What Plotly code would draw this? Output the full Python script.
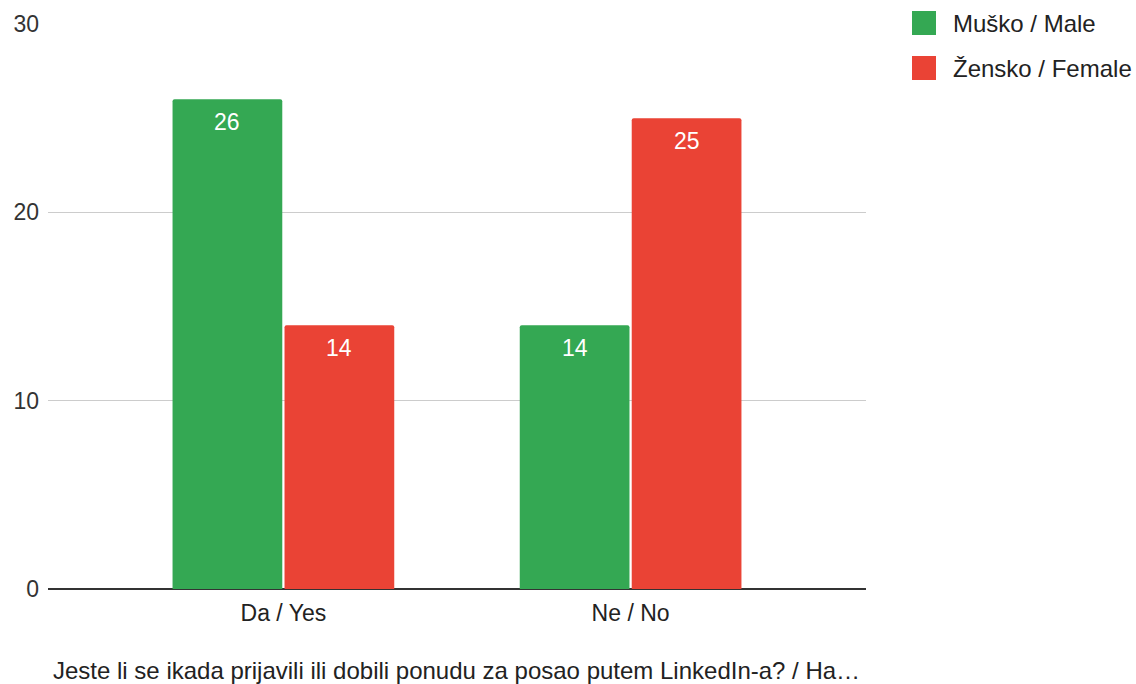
import plotly.graph_objects as go

categories = ["Da / Yes", "Ne / No"]
male = [26, 14]
female = [14, 25]
series_names = ["Muško / Male", "Žensko / Female"]
colors = ["#34A853", "#EA4335"]
y_ticks = [0, 10, 20, 30]
x_title = "Jeste li se ikada prijavili ili dobili ponudu za posao putem LinkedIn-a? / Ha…"

FONT = "Arial, Liberation Sans, sans-serif"
bargap = 0.355

fig = go.Figure()
for name, vals, col in zip(series_names, [male, female], colors):
    fig.add_trace(go.Bar(
        x=categories, y=vals, name=name,
        marker=dict(color=col, line=dict(width=0), cornerradius=2),
        showlegend=False, hoverinfo="x+y+name",
    ))

# data labels positioned through the axes (slot centres of grouped bars)
slot = (1 - bargap) / 2
annotations = []
for si, vals in enumerate([male, female]):
    off = -slot / 2 if si == 0 else slot / 2
    for ci, v in enumerate(vals):
        annotations.append(dict(
            x=ci + off, y=v, xref="x", yref="y", text=str(v), showarrow=False,
            yanchor="top", yshift=-8,
            font=dict(family=FONT, size=23, color="white"),
        ))

# custom legend (page px -> paper coords; plot area at x 48..866, y 24..589)
W, H = 818, 565
for i, (name, col) in enumerate(zip(series_names, colors)):
    yc = 23 + 45 * i
    fig.add_shape(type="rect", xref="paper", yref="paper",
                  x0=(912 - 48) / W, x1=(936 - 48) / W,
                  y0=(589 - (yc - 12)) / H, y1=(589 - (yc + 12)) / H,
                  fillcolor=col, line=dict(width=0))
    annotations.append(dict(
        x=(951 - 48) / W, y=(589 - yc) / H, xref="paper", yref="paper",
        xanchor="left", yanchor="middle", text=name, showarrow=False,
        font=dict(family=FONT, size=24, color="#222222"),
    ))

annotations.append(dict(
    x=(51 - 48) / W, y=(589 - 670) / H, xref="paper", yref="paper",
    xanchor="left", yanchor="middle", text=x_title, showarrow=False,
    font=dict(family=FONT, size=24, color="#222222"),
))

fig.update_layout(
    width=1136, height=684,
    margin=dict(l=48, r=270, t=24, b=95, autoexpand=False),
    paper_bgcolor="white", plot_bgcolor="white",
    barmode="group", bargap=bargap, bargroupgap=0.02,
    font=dict(family=FONT, size=23, color="#333333"),
    annotations=annotations,
    showlegend=False,
)
fig.update_xaxes(
    type="category", range=[-0.678, 1.678], automargin=False,
    showgrid=False, showline=False, ticks="", ticklabelstandoff=8,
    tickfont=dict(family=FONT, size=23, color="#222222"),
)
fig.update_yaxes(
    range=[0, 30], tickvals=y_ticks, showgrid=True, gridcolor="#cccccc", gridwidth=1,
    zeroline=True, zerolinecolor="#333333", zerolinewidth=1.5, automargin=False,
    ticks="", ticklabelstandoff=8, tickfont=dict(family=FONT, size=23, color="#333333"),
    showline=False,
)

fig.write_html(
    "out.html",
    config={"displayModeBar": False},
    post_script="document.body.style.margin='0';document.body.style.overflow='hidden';",
)
